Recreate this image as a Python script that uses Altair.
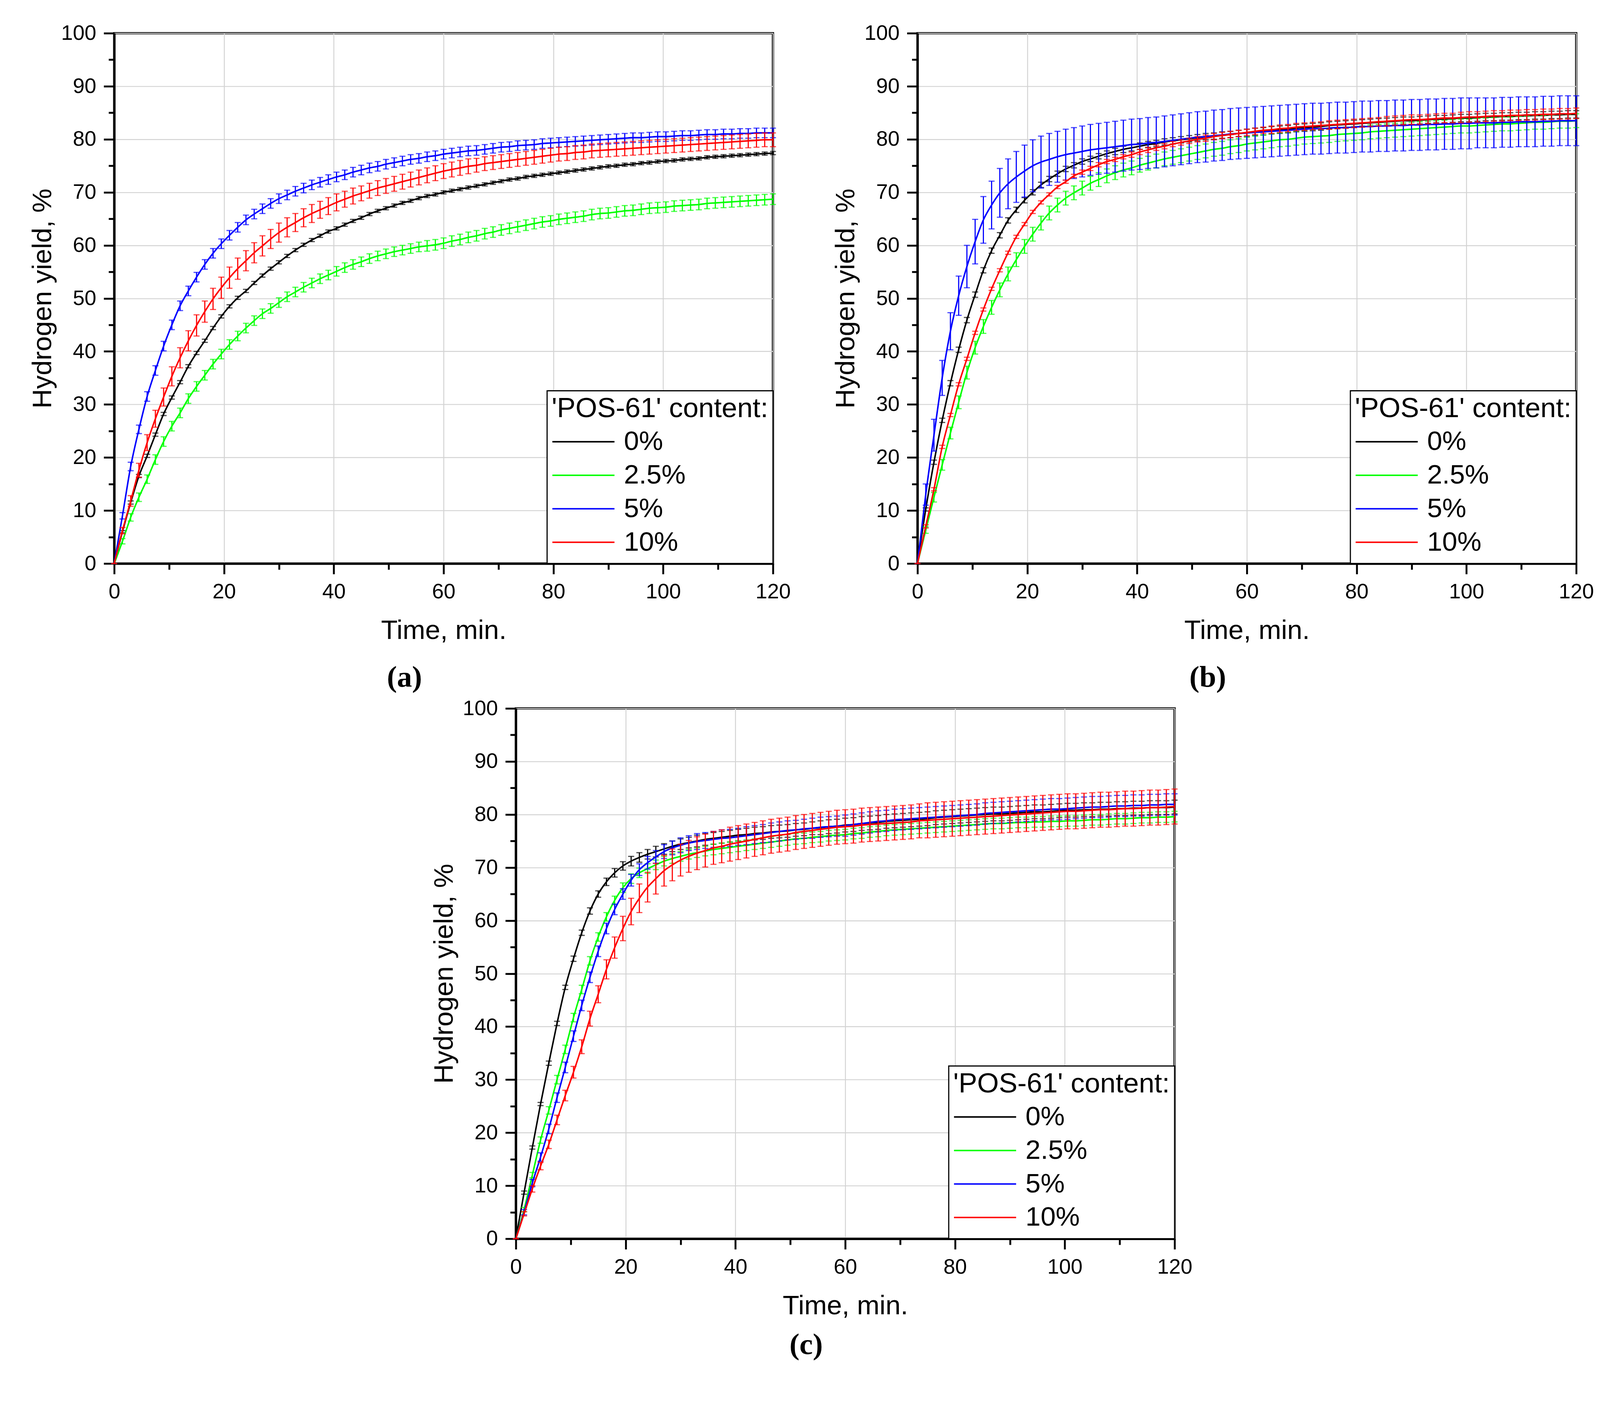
import pandas as pd
import altair as alt

# sampling grid of the measurements, minutes
TIME = [i * 1.5 for i in range(81)]
LEVELS = ['0%', '2.5%', '5%', '10%']
COLORS = ['#000000', '#00ff00', '#0000ff', '#ff0000']

# ---- panel (a)
A_0 = [0.0, 6.0, 11.5, 16.5, 20.3, 24.3, 28.2, 31.3, 34.2, 37.2,
       39.7, 42.0, 44.4, 46.6, 48.5, 50.1, 51.4, 52.9, 54.3, 55.6,
       56.8, 58.0, 59.1, 60.1, 61.0, 61.8, 62.6, 63.2, 63.9, 64.6,
       65.2, 65.9, 66.5, 67.0, 67.5, 68.0, 68.4, 68.9, 69.3, 69.6,
       70.0, 70.3, 70.6, 70.9, 71.2, 71.5, 71.8, 72.1, 72.4, 72.6,
       72.9, 73.1, 73.3, 73.5, 73.7, 73.9, 74.1, 74.3, 74.5, 74.7,
       74.9, 75.0, 75.2, 75.3, 75.5, 75.6, 75.8, 75.9, 76.0, 76.2,
       76.3, 76.4, 76.6, 76.7, 76.8, 76.9, 77.0, 77.1, 77.2, 77.3,
       77.4]
A_0_ERR = [0.0, 0.2, 0.3, 0.3, 0.3, 0.3, 0.3, 0.3, 0.3, 0.3,
           0.3, 0.3, 0.3, 0.3, 0.3, 0.3, 0.3, 0.3, 0.3, 0.3,
           0.3, 0.3, 0.3, 0.3, 0.3, 0.3, 0.3, 0.3, 0.3, 0.3,
           0.3, 0.3, 0.3, 0.3, 0.3, 0.3, 0.3, 0.3, 0.3, 0.3,
           0.3, 0.3, 0.3, 0.3, 0.3, 0.3, 0.3, 0.3, 0.3, 0.3,
           0.3, 0.3, 0.3, 0.3, 0.3, 0.3, 0.3, 0.3, 0.3, 0.3,
           0.3, 0.3, 0.3, 0.3, 0.3, 0.3, 0.3, 0.3, 0.3, 0.3,
           0.3, 0.3, 0.3, 0.3, 0.3, 0.3, 0.3, 0.3, 0.3, 0.3,
           0.3]
A_25 = [0.0, 4.2, 8.7, 12.5, 15.9, 19.6, 23.0, 25.9, 28.4, 31.1,
        33.4, 35.5, 37.6, 39.5, 41.3, 42.9, 44.4, 45.8, 47.1, 48.1,
        49.2, 50.3, 51.2, 52.1, 52.9, 53.7, 54.4, 55.1, 55.8, 56.4,
        56.9, 57.5, 58.0, 58.4, 58.8, 59.1, 59.4, 59.7, 59.9, 60.1,
        60.4, 60.8, 61.1, 61.5, 61.8, 62.2, 62.5, 62.9, 63.2, 63.5,
        63.8, 64.1, 64.4, 64.6, 64.9, 65.1, 65.3, 65.5, 65.8, 66.0,
        66.1, 66.3, 66.5, 66.6, 66.8, 67.0, 67.1, 67.2, 67.4, 67.5,
        67.6, 67.7, 67.9, 68.0, 68.1, 68.2, 68.3, 68.4, 68.5, 68.6,
        68.7]
A_25_ERR = [0.0, 0.5, 0.7, 0.8, 0.8, 0.9, 0.9, 0.9, 0.9, 0.9,
            0.9, 0.9, 0.9, 0.9, 0.9, 0.9, 0.9, 0.9, 0.9, 0.9,
            0.9, 0.9, 0.9, 0.9, 0.9, 0.9, 0.9, 0.9, 0.9, 0.9,
            0.9, 0.9, 0.9, 0.9, 0.9, 0.9, 0.9, 0.9, 1.0, 1.0,
            1.0, 1.0, 1.0, 1.0, 1.0, 1.0, 1.0, 1.0, 1.0, 1.0,
            1.0, 1.0, 1.0, 1.0, 1.0, 1.0, 1.0, 1.0, 1.0, 1.0,
            1.0, 1.0, 1.0, 1.0, 1.0, 1.0, 1.0, 1.0, 1.0, 1.0,
            1.0, 1.0, 1.0, 1.0, 1.0, 1.0, 1.0, 1.0, 1.0, 1.0,
            1.0]
A_5 = [0.0, 9.0, 18.3, 25.3, 31.5, 36.4, 41.0, 45.0, 48.6, 51.4,
       54.0, 56.4, 58.5, 60.3, 61.9, 63.4, 64.8, 65.9, 66.9, 67.9,
       68.8, 69.5, 70.2, 70.8, 71.4, 71.9, 72.4, 72.9, 73.3, 73.8,
       74.2, 74.6, 74.9, 75.3, 75.6, 75.9, 76.2, 76.4, 76.7, 76.9,
       77.2, 77.4, 77.6, 77.8, 77.9, 78.1, 78.3, 78.5, 78.6, 78.8,
       78.9, 79.0, 79.2, 79.3, 79.4, 79.5, 79.6, 79.7, 79.8, 79.9,
       80.0, 80.1, 80.2, 80.3, 80.3, 80.4, 80.5, 80.5, 80.6, 80.7,
       80.7, 80.8, 80.9, 80.9, 81.0, 81.0, 81.1, 81.1, 81.2, 81.2,
       81.2]
A_5_ERR = [0.0, 0.6, 0.8, 0.8, 0.9, 0.9, 0.9, 0.9, 0.9, 0.9,
           0.9, 0.9, 0.9, 0.9, 0.9, 0.9, 0.9, 0.9, 0.9, 0.9,
           0.9, 0.9, 0.9, 0.9, 0.9, 0.9, 0.9, 0.9, 0.9, 0.9,
           0.9, 0.9, 0.9, 0.9, 0.9, 0.9, 0.9, 0.9, 0.9, 0.9,
           0.9, 0.9, 0.9, 0.9, 0.9, 0.9, 0.9, 0.9, 0.9, 0.9,
           0.9, 0.9, 0.9, 0.9, 0.9, 0.9, 0.9, 0.9, 0.9, 0.9,
           0.9, 0.9, 0.9, 0.9, 0.9, 0.9, 0.9, 0.9, 0.9, 0.9,
           0.9, 0.9, 0.9, 0.9, 0.9, 0.9, 0.9, 0.9, 0.9, 0.9,
           0.9]
A_10 = [0.0, 6.2, 11.8, 17.6, 22.8, 27.3, 31.4, 35.3, 38.8, 42.0,
        44.9, 47.5, 49.9, 52.0, 53.9, 55.6, 57.1, 58.6, 59.9, 61.2,
        62.4, 63.4, 64.3, 65.2, 66.0, 66.7, 67.4, 68.1, 68.7, 69.3,
        69.8, 70.3, 70.8, 71.2, 71.6, 72.0, 72.4, 72.8, 73.2, 73.6,
        74.0, 74.3, 74.6, 74.9, 75.1, 75.4, 75.6, 75.8, 76.0, 76.2,
        76.4, 76.6, 76.8, 77.0, 77.2, 77.3, 77.5, 77.6, 77.8, 77.9,
        78.0, 78.1, 78.2, 78.3, 78.4, 78.5, 78.6, 78.7, 78.8, 78.9,
        79.0, 79.1, 79.2, 79.3, 79.4, 79.5, 79.6, 79.7, 79.8, 79.9,
        79.9]
A_10_ERR = [0.0, 0.6, 1.0, 1.3, 1.5, 1.6, 1.7, 1.8, 1.9, 1.9,
            2.0, 2.0, 2.0, 2.0, 2.0, 2.0, 1.9, 1.9, 1.9, 1.8,
            1.8, 1.8, 1.7, 1.7, 1.7, 1.6, 1.6, 1.6, 1.5, 1.5,
            1.4, 1.4, 1.4, 1.4, 1.4, 1.4, 1.4, 1.4, 1.4, 1.4,
            1.4, 1.4, 1.4, 1.4, 1.3, 1.3, 1.3, 1.3, 1.3, 1.3,
            1.3, 1.3, 1.3, 1.3, 1.3, 1.3, 1.3, 1.3, 1.3, 1.3,
            1.3, 1.3, 1.3, 1.3, 1.3, 1.3, 1.3, 1.3, 1.3, 1.3,
            1.3, 1.3, 1.3, 1.3, 1.3, 1.3, 1.3, 1.3, 1.3, 1.3,
            1.3]

# ---- panel (b)
B_0 = [0.0, 10.2, 19.1, 27.0, 34.0, 40.3, 45.9, 50.7, 55.3, 59.0,
       61.9, 64.7, 66.7, 68.5, 70.0, 71.4, 72.5, 73.5, 74.4, 75.1,
       75.8, 76.3, 76.8, 77.3, 77.7, 78.1, 78.4, 78.7, 79.0, 79.2,
       79.5, 79.7, 79.9, 80.1, 80.3, 80.5, 80.6, 80.8, 80.9, 81.1,
       81.2, 81.4, 81.5, 81.7, 81.8, 81.9, 82.1, 82.2, 82.3, 82.4,
       82.6, 82.7, 82.8, 82.9, 83.0, 83.1, 83.2, 83.3, 83.4, 83.5,
       83.5, 83.6, 83.7, 83.8, 83.8, 83.9, 84.0, 84.0, 84.1, 84.2,
       84.2, 84.3, 84.3, 84.4, 84.4, 84.5, 84.5, 84.6, 84.6, 84.7,
       84.7]
B_0_ERR = [0.0, 0.3, 0.4, 0.4, 0.5, 0.5, 0.5, 0.5, 0.5, 0.5,
           0.5, 0.5, 0.5, 0.5, 0.5, 0.5, 0.5, 0.5, 0.5, 0.5,
           0.5, 0.5, 0.5, 0.5, 0.6, 0.6, 0.6, 0.6, 0.6, 0.6,
           0.6, 0.6, 0.6, 0.6, 0.6, 0.6, 0.6, 0.6, 0.6, 0.6,
           0.7, 0.7, 0.7, 0.7, 0.7, 0.7, 0.7, 0.7, 0.7, 0.7,
           0.7, 0.7, 0.7, 0.7, 0.7, 0.7, 0.7, 0.7, 0.7, 0.7,
           0.7, 0.7, 0.7, 0.7, 0.7, 0.7, 0.7, 0.7, 0.7, 0.7,
           0.7, 0.7, 0.7, 0.7, 0.7, 0.7, 0.7, 0.7, 0.7, 0.7,
           0.7]
B_25 = [0.0, 6.3, 12.5, 18.6, 24.6, 30.4, 36.0, 40.7, 44.7, 48.3,
        51.6, 54.6, 57.3, 59.8, 62.1, 64.2, 66.1, 67.6, 68.9, 69.9,
        70.8, 71.7, 72.4, 73.1, 73.7, 74.2, 74.6, 75.1, 75.5, 75.9,
        76.3, 76.6, 76.9, 77.2, 77.5, 77.8, 78.1, 78.3, 78.6, 78.8,
        79.1, 79.3, 79.5, 79.7, 79.9, 80.0, 80.2, 80.4, 80.5, 80.6,
        80.7, 80.9, 81.0, 81.1, 81.2, 81.4, 81.5, 81.6, 81.7, 81.8,
        81.9, 82.0, 82.1, 82.2, 82.3, 82.4, 82.5, 82.5, 82.6, 82.7,
        82.8, 82.9, 82.9, 83.0, 83.1, 83.2, 83.2, 83.3, 83.4, 83.4,
        83.5]
B_25_ERR = [0.0, 0.6, 0.9, 1.0, 1.1, 1.2, 1.2, 1.2, 1.3, 1.3,
            1.3, 1.3, 1.3, 1.3, 1.3, 1.3, 1.3, 1.3, 1.3, 1.3,
            1.3, 1.3, 1.3, 1.3, 1.3, 1.3, 1.3, 1.3, 1.3, 1.3,
            1.3, 1.3, 1.3, 1.3, 1.3, 1.3, 1.3, 1.3, 1.3, 1.3,
            1.3, 1.3, 1.3, 1.3, 1.3, 1.3, 1.3, 1.3, 1.3, 1.3,
            1.3, 1.3, 1.3, 1.3, 1.3, 1.3, 1.3, 1.3, 1.3, 1.3,
            1.3, 1.3, 1.3, 1.3, 1.3, 1.3, 1.3, 1.3, 1.3, 1.3,
            1.3, 1.3, 1.3, 1.3, 1.3, 1.3, 1.3, 1.3, 1.3, 1.3,
            1.3]
B_5 = [0.0, 13.0, 24.2, 35.0, 43.8, 50.5, 56.0, 60.7, 64.8, 67.6,
       69.9, 71.6, 72.9, 74.0, 75.0, 75.7, 76.2, 76.7, 77.1, 77.4,
       77.7, 78.0, 78.2, 78.4, 78.6, 78.8, 79.0, 79.1, 79.3, 79.4,
       79.6, 79.8, 80.0, 80.2, 80.4, 80.5, 80.7, 80.8, 81.0, 81.1,
       81.2, 81.3, 81.4, 81.5, 81.6, 81.7, 81.8, 81.9, 82.0, 82.0,
       82.1, 82.2, 82.2, 82.3, 82.4, 82.4, 82.5, 82.5, 82.6, 82.6,
       82.7, 82.7, 82.8, 82.8, 82.9, 82.9, 83.0, 83.0, 83.1, 83.1,
       83.1, 83.2, 83.2, 83.3, 83.3, 83.3, 83.4, 83.4, 83.5, 83.5,
       83.5]
B_5_ERR = [0.0, 2.0, 3.0, 3.3, 3.5, 3.7, 4.0, 4.2, 4.4, 4.5,
           4.6, 4.7, 4.8, 4.9, 4.9, 4.9, 4.9, 4.8, 4.8, 4.8,
           4.8, 4.8, 4.8, 4.8, 4.8, 4.8, 4.8, 4.8, 4.8, 4.8,
           4.8, 4.8, 4.8, 4.8, 4.8, 4.8, 4.8, 4.8, 4.8, 4.8,
           4.8, 4.8, 4.8, 4.8, 4.8, 4.8, 4.8, 4.8, 4.8, 4.8,
           4.8, 4.8, 4.8, 4.8, 4.8, 4.8, 4.8, 4.8, 4.8, 4.8,
           4.8, 4.8, 4.8, 4.8, 4.8, 4.8, 4.8, 4.8, 4.7, 4.7,
           4.7, 4.7, 4.7, 4.7, 4.7, 4.7, 4.7, 4.7, 4.7, 4.7,
           4.7]
B_10 = [0.0, 7.0, 14.0, 22.0, 28.0, 33.8, 38.6, 43.5, 47.9, 51.8,
        55.3, 58.6, 61.6, 64.0, 66.3, 68.1, 69.6, 71.0, 72.0, 73.1,
        73.8, 74.5, 75.2, 75.8, 76.2, 76.7, 77.1, 77.6, 78.0, 78.4,
        78.7, 79.1, 79.4, 79.7, 80.0, 80.2, 80.5, 80.7, 80.9, 81.1,
        81.3, 81.5, 81.7, 81.8, 82.0, 82.1, 82.3, 82.4, 82.5, 82.6,
        82.7, 82.8, 82.9, 83.0, 83.1, 83.2, 83.3, 83.4, 83.5, 83.6,
        83.7, 83.7, 83.8, 83.9, 84.0, 84.0, 84.1, 84.2, 84.2, 84.3,
        84.4, 84.4, 84.5, 84.5, 84.6, 84.6, 84.7, 84.7, 84.8, 84.8,
        84.9]
B_10_ERR = [0.0, 0.3, 0.3, 0.3, 0.3, 0.3, 0.3, 0.3, 0.3, 0.3,
            0.3, 0.3, 0.3, 0.3, 0.3, 0.3, 0.3, 0.3, 0.3, 0.3,
            0.4, 0.4, 0.4, 0.4, 0.4, 0.4, 0.5, 0.5, 0.5, 0.5,
            0.5, 0.5, 0.5, 0.5, 0.5, 0.6, 0.6, 0.6, 0.6, 0.6,
            0.6, 0.6, 0.6, 0.7, 0.7, 0.7, 0.7, 0.7, 0.7, 0.7,
            0.8, 0.8, 0.8, 0.8, 0.8, 0.8, 0.8, 0.9, 0.9, 0.9,
            0.9, 0.9, 0.9, 0.9, 0.9, 0.9, 1.0, 1.0, 1.0, 1.0,
            1.0, 1.0, 1.0, 1.0, 1.0, 1.0, 1.0, 1.0, 1.0, 1.0,
            1.0]

# ---- panel (c)
C_0 = [0.0, 8.7, 17.2, 25.4, 33.1, 40.6, 47.4, 52.8, 57.7, 61.8,
       65.0, 67.3, 69.0, 70.3, 71.2, 71.9, 72.5, 73.0, 73.5, 74.0,
       74.4, 74.7, 75.0, 75.3, 75.5, 75.7, 75.9, 76.1, 76.2, 76.4,
       76.5, 76.7, 76.8, 76.9, 77.1, 77.2, 77.4, 77.5, 77.7, 77.8,
       78.0, 78.1, 78.3, 78.4, 78.5, 78.7, 78.8, 78.9, 79.0, 79.1,
       79.2, 79.4, 79.5, 79.6, 79.7, 79.8, 79.9, 80.0, 80.1, 80.1,
       80.2, 80.3, 80.4, 80.5, 80.5, 80.6, 80.7, 80.8, 80.8, 80.9,
       80.9, 81.0, 81.0, 81.1, 81.1, 81.2, 81.2, 81.3, 81.3, 81.3,
       81.4]
C_0_ERR = [0.0, 0.3, 0.3, 0.3, 0.4, 0.4, 0.4, 0.5, 0.5, 0.6,
           0.6, 0.7, 0.8, 0.8, 0.9, 0.9, 0.9, 1.0, 1.0, 1.0,
           1.0, 1.0, 1.1, 1.1, 1.1, 1.1, 1.1, 1.1, 1.2, 1.2,
           1.2, 1.2, 1.2, 1.2, 1.2, 1.2, 1.2, 1.3, 1.3, 1.3,
           1.3, 1.3, 1.3, 1.3, 1.3, 1.3, 1.3, 1.3, 1.3, 1.3,
           1.3, 1.3, 1.3, 1.3, 1.3, 1.3, 1.3, 1.3, 1.3, 1.3,
           1.3, 1.3, 1.3, 1.3, 1.3, 1.3, 1.3, 1.3, 1.3, 1.3,
           1.3, 1.3, 1.3, 1.3, 1.3, 1.3, 1.3, 1.3, 1.3, 1.3,
           1.3]
C_25 = [0.0, 5.5, 12.0, 18.6, 24.2, 30.0, 35.7, 41.7, 47.0, 52.4,
        56.9, 60.7, 63.8, 66.2, 67.9, 69.0, 69.8, 70.5, 71.2, 71.7,
        72.1, 72.5, 72.8, 73.1, 73.4, 73.6, 73.8, 74.0, 74.2, 74.4,
        74.6, 74.8, 75.0, 75.2, 75.4, 75.5, 75.7, 75.8, 76.0, 76.1,
        76.2, 76.4, 76.5, 76.7, 76.8, 77.0, 77.1, 77.2, 77.3, 77.4,
        77.5, 77.6, 77.7, 77.8, 77.9, 78.0, 78.1, 78.2, 78.3, 78.3,
        78.4, 78.5, 78.5, 78.6, 78.6, 78.7, 78.7, 78.8, 78.8, 78.9,
        79.0, 79.0, 79.1, 79.2, 79.2, 79.3, 79.4, 79.4, 79.5, 79.5,
        79.6]
C_25_ERR = [0.0, 0.4, 0.5, 0.6, 0.7, 0.8, 0.8, 0.8, 0.8, 0.8,
            0.8, 0.8, 0.8, 0.9, 0.9, 0.9, 0.9, 0.9, 0.9, 0.9,
            0.9, 0.9, 0.9, 0.9, 1.0, 1.0, 1.0, 1.0, 1.0, 1.0,
            1.0, 1.0, 1.0, 1.0, 1.0, 1.0, 1.0, 1.0, 1.0, 1.0,
            1.0, 1.0, 1.0, 1.0, 1.0, 1.0, 1.0, 1.0, 1.0, 1.0,
            1.0, 1.0, 1.0, 1.0, 1.0, 1.0, 1.0, 1.0, 1.0, 1.0,
            1.0, 1.0, 1.0, 1.0, 1.0, 1.0, 1.0, 1.0, 1.0, 1.0,
            1.0, 1.0, 1.0, 1.0, 1.0, 1.0, 1.0, 1.0, 1.0, 1.0,
            1.0]
C_5 = [0.0, 5.0, 10.5, 15.4, 20.7, 26.6, 32.3, 38.2, 44.0, 49.3,
       54.2, 58.5, 62.1, 65.0, 67.6, 69.6, 70.9, 72.0, 73.0, 73.7,
       74.2, 74.6, 74.9, 75.1, 75.3, 75.5, 75.6, 75.8, 76.0, 76.2,
       76.4, 76.6, 76.8, 77.0, 77.1, 77.3, 77.4, 77.6, 77.7, 77.8,
       77.9, 78.1, 78.3, 78.5, 78.7, 78.8, 79.0, 79.1, 79.2, 79.3,
       79.4, 79.5, 79.6, 79.7, 79.8, 79.9, 80.0, 80.2, 80.3, 80.4,
       80.5, 80.6, 80.7, 80.8, 80.9, 81.0, 81.0, 81.1, 81.2, 81.3,
       81.4, 81.4, 81.5, 81.6, 81.6, 81.7, 81.7, 81.8, 81.8, 81.9,
       81.9]
C_5_ERR = [0.0, 0.5, 0.7, 0.8, 0.9, 0.9, 1.0, 1.0, 1.0, 1.0,
           1.0, 1.0, 1.0, 1.0, 1.1, 1.1, 1.2, 1.2, 1.3, 1.3,
           1.4, 1.4, 1.5, 1.5, 1.5, 1.6, 1.6, 1.6, 1.7, 1.7,
           1.7, 1.8, 1.8, 1.8, 1.8, 1.8, 1.9, 1.9, 1.9, 1.9,
           2.0, 2.0, 2.0, 2.0, 2.0, 2.0, 2.0, 2.0, 2.0, 2.0,
           2.0, 2.0, 2.0, 2.0, 2.0, 2.0, 2.0, 2.0, 2.0, 2.0,
           2.0, 2.0, 2.0, 2.0, 2.0, 2.0, 2.0, 2.0, 2.0, 2.0,
           2.0, 2.0, 2.0, 2.0, 2.0, 2.0, 2.0, 2.0, 2.0, 2.0,
           2.0]
C_10 = [0.0, 4.7, 9.4, 13.7, 17.8, 22.4, 27.0, 31.4, 36.2, 41.5,
        46.1, 50.8, 54.9, 58.5, 61.7, 64.2, 66.3, 67.9, 69.4, 70.5,
        71.4, 72.1, 72.7, 73.2, 73.7, 74.0, 74.4, 74.7, 75.0, 75.3,
        75.6, 75.9, 76.1, 76.3, 76.6, 76.8, 77.0, 77.2, 77.4, 77.6,
        77.7, 77.8, 78.0, 78.1, 78.2, 78.3, 78.4, 78.5, 78.6, 78.8,
        78.9, 79.0, 79.1, 79.2, 79.3, 79.4, 79.5, 79.6, 79.7, 79.8,
        79.9, 80.0, 80.1, 80.2, 80.3, 80.4, 80.5, 80.6, 80.6, 80.7,
        80.8, 80.9, 80.9, 81.0, 81.1, 81.1, 81.2, 81.3, 81.3, 81.4,
        81.5]
C_10_ERR = [0.0, 0.4, 0.6, 0.7, 0.8, 0.9, 1.0, 1.1, 1.3, 1.4,
            1.6, 1.8, 2.0, 2.3, 2.5, 2.7, 2.8, 2.9, 2.9, 3.0,
            3.0, 3.0, 3.1, 3.1, 3.1, 3.1, 3.2, 3.2, 3.2, 3.2,
            3.2, 3.2, 3.2, 3.2, 3.2, 3.2, 3.2, 3.2, 3.2, 3.2,
            3.2, 3.2, 3.2, 3.2, 3.2, 3.2, 3.2, 3.2, 3.2, 3.2,
            3.3, 3.3, 3.3, 3.3, 3.3, 3.3, 3.3, 3.3, 3.3, 3.3,
            3.3, 3.3, 3.3, 3.3, 3.3, 3.3, 3.3, 3.3, 3.3, 3.3,
            3.3, 3.3, 3.3, 3.3, 3.3, 3.3, 3.3, 3.3, 3.3, 3.3,
            3.3]


def make_panel(tag, curves, tag_offset):
    rows = []
    for level, (vals, errs) in zip(LEVELS, curves):
        for t, v, e in zip(TIME, vals, errs):
            rows.append({'time': t, 'hy': v, 'err': e, 'level': level})
    df = pd.DataFrame(rows)

    x = alt.X('time:Q', title='Time, min.',
              scale=alt.Scale(domain=[0, 120], nice=False),
              axis=alt.Axis(values=list(range(0, 121, 10)),
                            labelExpr="datum.value % 20 === 0 ? datum.label : ''",
                            tickSize={'condition': {'test': 'datum.value % 20 === 0', 'value': 28}, 'value': 16},
                            gridOpacity={'condition': {'test': 'datum.value % 20 === 0', 'value': 1}, 'value': 0},
                            labelFlush=False, labelOverlap=False,
                            labelPadding=20, titlePadding=40))
    y = alt.Y('hy:Q', title='Hydrogen yield, %',
              scale=alt.Scale(domain=[0, 100], nice=False),
              axis=alt.Axis(values=list(range(0, 101, 5)),
                            labelExpr="datum.value % 10 === 0 ? datum.label : ''",
                            tickSize={'condition': {'test': 'datum.value % 10 === 0', 'value': 28}, 'value': 15},
                            gridOpacity={'condition': {'test': 'datum.value % 10 === 0', 'value': 1}, 'value': 0},
                            labelFlush=False, labelOverlap=False,
                            labelPadding=20, titlePadding=12))
    color = alt.Color('level:N', scale=alt.Scale(domain=LEVELS, range=COLORS),
                      legend=alt.Legend(title="'POS-61' content:", orient='bottom-right', offset=0))

    layers = []
    for level, col in zip(LEVELS, COLORS):
        base = alt.Chart(df).transform_filter(alt.datum.level == level)
        layers.append(base.mark_errorbar(ticks=True, size=16, thickness=3, color=col)
                      .encode(x=x, y=y, yError='err:Q'))
        layers.append(base.mark_line(strokeWidth=4, interpolate='monotone')
                      .encode(x=x, y=y, color=color))

    return alt.layer(*layers).properties(
        width=1750, height=1409,
        title=alt.TitleParams(tag, orient='bottom', anchor='middle', frame='bounds',
                              font='Liberation Serif', fontSize=80, fontWeight='bold',
                              offset=tag_offset, dx=-14, color='black'))


pa = make_panel('(a)', [(A_0, A_0_ERR), (A_25, A_25_ERR), (A_5, A_5_ERR), (A_10, A_10_ERR)], 50)
pb = make_panel('(b)', [(B_0, B_0_ERR), (B_25, B_25_ERR), (B_5, B_5_ERR), (B_10, B_10_ERR)], 50)
pc = make_panel('(c)', [(C_0, C_0_ERR), (C_25, C_25_ERR), (C_5, C_5_ERR), (C_10, C_10_ERR)], 30)

top = alt.hconcat(pa, pb, spacing=104).resolve_scale(color='independent')

chart = alt.vconcat(top, pc, spacing=8, center=True).resolve_scale(
    color='independent'
).properties(
    padding={'left': 65, 'top': -18, 'right': 5, 'bottom': 5}
).configure(
    font='Liberation Sans'
).configure_axis(
    labelFont='Liberation Sans', titleFont='Liberation Sans',
    labelFontSize=56, titleFontSize=72, titleFontWeight='normal',
    labelColor='black', titleColor='black',
    domainColor='black', domainWidth=6,
    tickColor='black', tickWidth=5,
    gridColor='#d3d3d3', gridWidth=2.5
).configure_legend(
    titleFont='Liberation Sans', labelFont='Liberation Sans',
    titleFontSize=74, labelFontSize=72, titleFontWeight='normal',
    titleColor='black', labelColor='black',
    symbolType='stroke', symbolSize=27225, symbolStrokeWidth=4,
    clipHeight=89, rowPadding=0, padding=12, labelOffset=23, titlePadding=5,
    strokeColor='black', strokeWidth=3, fillColor='white',
    titleLimit=2000, labelLimit=2000
).configure_view(
    stroke='black', strokeWidth=6
)

chart.save("out.html", embed_options={"renderer": "svg", "actions": False})
